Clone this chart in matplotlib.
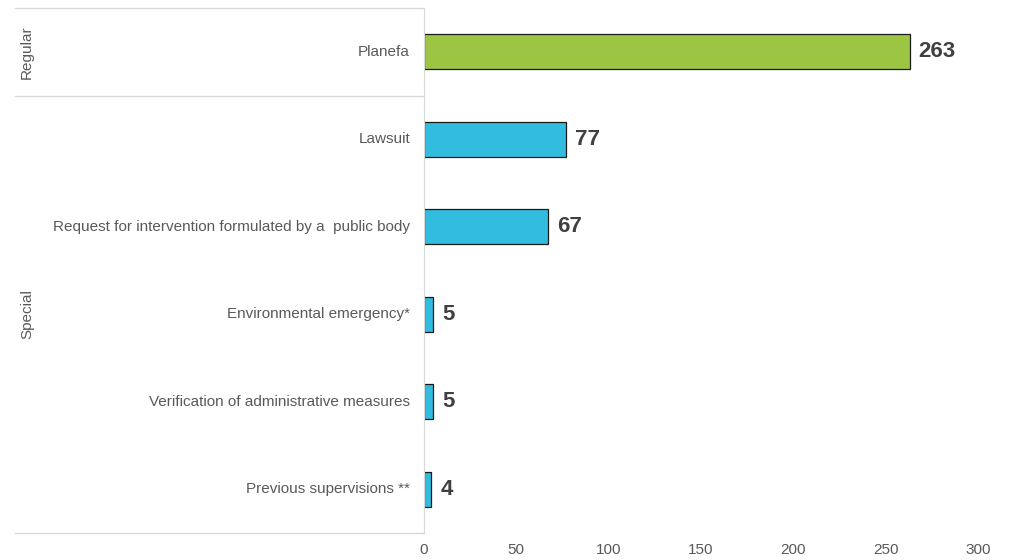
import matplotlib.pyplot as plt
from matplotlib.lines import Line2D

plt.rcParams['font.family'] = ['Liberation Sans', 'DejaVu Sans']

categories = ['Planefa', 'Lawsuit', 'Request for intervention formulated by a  public body',
              'Environmental emergency*', 'Verification of administrative measures',
              'Previous supervisions **']
values = [263, 77, 67, 5, 5, 4]
groups = ['Regular', 'Special', 'Special', 'Special', 'Special', 'Special']
group_colors = {'Regular': '#9DC544', 'Special': '#31BCE0'}
xticks = [0, 50, 100, 150, 200, 250, 300]

fig = plt.figure(figsize=(10.11, 5.6), dpi=100)
ax = fig.add_axes([424 / 1011, 1 - 533 / 560, (978 - 424) / 1011, 525 / 560])

y = list(range(len(categories)))
colors = [group_colors[g] for g in groups]
ax.barh(y, values, height=0.4, color=colors, edgecolor='#1a1a1a', linewidth=0.9)
ax.set_ylim(len(categories) - 0.5, -0.5)
ax.set_xlim(0, 300)

for yi, v in zip(y, values):
    ax.annotate(str(v), (v, yi), xytext=(9, 0), textcoords='offset pixels',
                va='center', ha='left', fontsize=16, fontweight='bold',
                color='#404040')

ax.set_xticks(xticks)
ax.set_xticklabels([str(t) for t in xticks], fontsize=11, color='#595959')
ax.tick_params(axis='x', length=0, pad=7)
ax.set_yticks([])
for s in ['top', 'right', 'bottom']:
    ax.spines[s].set_visible(False)
ax.spines['left'].set_color('#D9D9D9')

# category labels and group separators on the left
for yi, c in zip(y, categories):
    ax.annotate(c, (0, yi), xytext=(-14, 0), textcoords='offset pixels',
                ha='right', va='center', fontsize=11, color='#595959')

trans = ax.get_yaxis_transform()
x0 = (15 - 424) / (978 - 424)
bounds = [-0.5]
for i in range(1, len(groups)):
    if groups[i] != groups[i - 1]:
        bounds.append(i - 0.5)
bounds.append(len(groups) - 0.5)
for b in bounds:
    ax.add_line(Line2D([x0, 0], [b, b], transform=trans, color='#D9D9D9',
                       linewidth=1, clip_on=False))

for lo, hi in zip(bounds[:-1], bounds[1:]):
    ax.text(x0 + 0.022, (lo + hi) / 2, groups[int(lo + 0.5)], transform=trans,
            rotation=90, ha='center', va='center', fontsize=11, color='#595959')

fig.savefig('out.png', dpi=100)
